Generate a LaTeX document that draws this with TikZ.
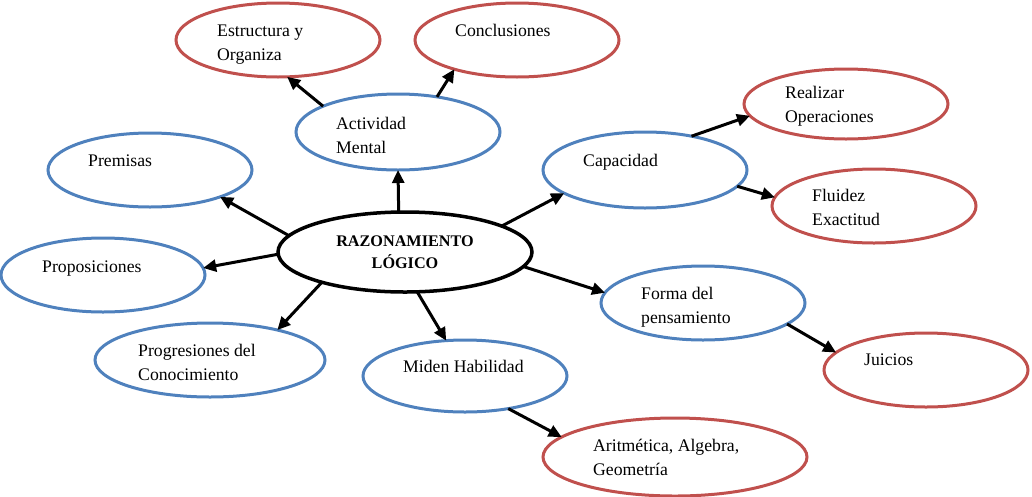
\documentclass[tikz,border=0pt]{standalone}
\usepackage{fontspec}
\setmainfont{Liberation Serif}
\usetikzlibrary{shapes.geometric,arrows.meta}
\definecolor{ublue}{HTML}{4F81BD}
\definecolor{ured}{HTML}{C0504D}
\tikzset{
  bub/.style={ellipse, draw, line width=3pt, inner sep=0pt, outer sep=0pt},
  blu/.style={bub, draw=ublue},
  rd/.style={bub, draw=ured},
  txt/.style={anchor=base west, inner sep=0pt, align=left, font=\fontsize{17.7}{23.5}\selectfont},
  arr/.style={line width=3pt, -{Triangle[length=13pt,width=12pt]}}
}
\begin{document}
\begin{tikzpicture}[x=1pt,y=-1pt]
\useasboundingbox (0,0) rectangle (1032,496);
% central node
\node[bub, draw=black, line width=3.5pt, minimum width=254, minimum height=80, align=center,
  font=\fontsize{16.2}{22}\selectfont\bfseries] (c) at (405,252) {RAZONAMIENTO\\LÓGICO};
% ellipses
\node[blu, minimum width=204, minimum height=76] (act) at (398,132) {};
\node[rd,  minimum width=204, minimum height=74] (est) at (278,40) {};
\node[rd,  minimum width=204, minimum height=74] (con) at (517,40) {};
\node[blu, minimum width=204, minimum height=74] (pre) at (150,170) {};
\node[blu, minimum width=204, minimum height=74] (pro) at (103,275) {};
\node[blu, minimum width=204, minimum height=76] (cap) at (645,170) {};
\node[rd,  minimum width=204, minimum height=70] (rea) at (846,104) {};
\node[rd,  minimum width=204, minimum height=74] (flu) at (874,206) {};
\node[blu, minimum width=204, minimum height=74] (for) at (703,303) {};
\node[rd,  minimum width=204, minimum height=74] (jui) at (926,370) {};
\node[rd,  minimum width=264, minimum height=78] (ari) at (675,457) {};
\node[blu, minimum width=204, minimum height=72] (mid) at (465,376) {};
\node[blu, minimum width=230, minimum height=74] (prg) at (210,360) {};
% texts (base = baseline of the last line)
\node[txt] (test) at (217,60) {Estructura y\\Organiza};
\node[txt] (tcon) at (455,36) {Conclusiones};
\node[txt] (tact) at (336,153) {Actividad\\Mental};
\node[txt] (tpre) at (88,166) {Premisas};
\node[txt] (tpro) at (42,272) {Proposiciones};
\node[txt] (tcap) at (583,166) {Capacidad};
\node[txt] (trea) at (785,122) {Realizar\\Operaciones};
\node[txt] (tflu) at (812,225) {Fluidez\\Exactitud};
\node[txt] (tfor) at (641,323) {Forma del\\pensamiento};
\node[txt] (tjui) at (864,365) {Juicios};
\node[txt] (tari) at (593,475) {Aritmética, Algebra,\\Geometría};
\node[txt] (tmid) at (403,372) {Miden Habilidad};
\node[txt] (tprg) at (138,380) {Progresiones del\\Conocimiento};
% arrows
\draw[arr] (c.99.9) -- (act.270);
\draw[arr] (c.172.8) -- (pre.-21.8);
\draw[arr] (c.181.3) -- (pro.4.5);
\draw[arr] (c.200.6) -- (prg.24.3);
\draw[arr] (c.-73.3) -- (mid.118.9);
\draw[arr] (c.-7.4) -- (for.174.3);
\draw[arr] (c.15.6) -- (cap.196);
\draw[arr] (act.161.3) -- (est.-76.3);
\draw[arr] (act.42) -- (con.205.3);
\draw[arr] (cap.36.9) -- (rea.187.9);
\draw[arr] (cap.-10.1) -- (flu.175.5);
\draw[arr] (for.-14.7) -- (jui.169.7);
\draw[arr] (mid.-37.3) -- (ari.170.3);
\end{tikzpicture}
\end{document}
